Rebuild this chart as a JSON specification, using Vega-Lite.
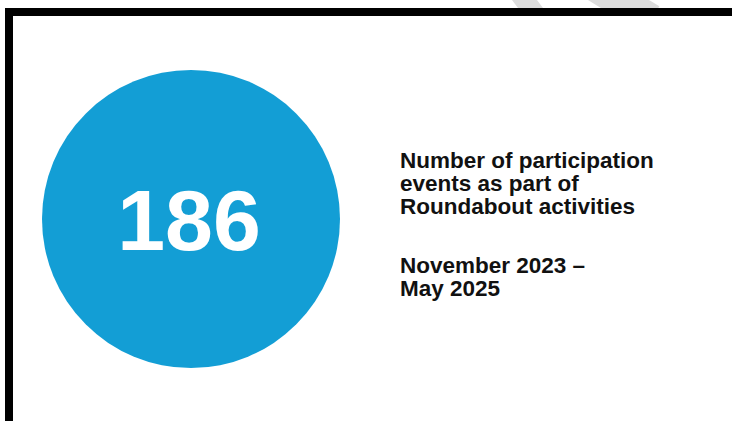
{
  "$schema": "https://vega.github.io/schema/vega-lite/v6.json",
  "width": 732,
  "height": 421,
  "autosize": {"type": "fit", "contains": "padding"},
  "padding": 0,
  "background": "white",
  "config": {"view": {"stroke": null}},
  "data": {"values": [{"count": 186, "metric": "Number of participation\nevents as part of\nRoundabout activities", "period": "November 2023 –\nMay 2025"}]},
  "layer": [
    {
      "mark": {"type": "rule", "stroke": "#dcdcdc", "strokeWidth": 20, "clip": true},
      "encoding": {
        "x": {"datum": 509.5, "type": "quantitative", "scale": {"domain": [0, 732], "nice": false, "zero": false}, "axis": null},
        "x2": {"datum": 539.5},
        "y": {"datum": -20, "type": "quantitative", "scale": {"domain": [0, 421], "reverse": true, "nice": false, "zero": false}, "axis": null},
        "y2": {"datum": 20}
      }
    },
    {
      "mark": {"type": "rule", "stroke": "#dcdcdc", "strokeWidth": 32, "clip": true},
      "encoding": {
        "x": {"datum": 586, "type": "quantitative", "scale": {"domain": [0, 732], "nice": false, "zero": false}, "axis": null},
        "x2": {"datum": 651},
        "y": {"datum": -20, "type": "quantitative", "scale": {"domain": [0, 421], "reverse": true, "nice": false, "zero": false}, "axis": null},
        "y2": {"datum": 20}
      }
    },
    {
      "mark": {"type": "rect", "color": "#ffffff", "opacity": 1, "clip": true},
      "encoding": {
        "x": {"datum": 5, "type": "quantitative", "scale": {"domain": [0, 732], "nice": false, "zero": false}, "axis": null},
        "x2": {"datum": 740},
        "y": {"datum": 8, "type": "quantitative", "scale": {"domain": [0, 421], "reverse": true, "nice": false, "zero": false}, "axis": null},
        "y2": {"datum": 430}
      }
    },
    {
      "mark": {"type": "rule", "stroke": "#000000", "strokeWidth": 8, "clip": true},
      "encoding": {
        "x": {"datum": 9, "type": "quantitative", "scale": {"domain": [0, 732], "nice": false, "zero": false}, "axis": null},
        "y": {"datum": 8, "type": "quantitative", "scale": {"domain": [0, 421], "reverse": true, "nice": false, "zero": false}, "axis": null},
        "y2": {"datum": 430}
      }
    },
    {
      "mark": {"type": "rule", "stroke": "#000000", "strokeWidth": 8, "clip": true},
      "encoding": {
        "x": {"datum": 5, "type": "quantitative", "scale": {"domain": [0, 732], "nice": false, "zero": false}, "axis": null},
        "x2": {"datum": 740},
        "y": {"datum": 12, "type": "quantitative", "scale": {"domain": [0, 421], "reverse": true, "nice": false, "zero": false}, "axis": null}
      }
    },
    {
      "mark": {"type": "point", "shape": "circle", "filled": true, "color": "#139ed5", "opacity": 1, "size": 88804, "strokeWidth": 0},
      "encoding": {
        "x": {"datum": 191, "type": "quantitative", "scale": {"domain": [0, 732], "nice": false, "zero": false}, "axis": null},
        "y": {"datum": 219, "type": "quantitative", "scale": {"domain": [0, 421], "reverse": true, "nice": false, "zero": false}, "axis": null}
      }
    },
    {
      "mark": {"type": "text", "font": "Liberation Sans", "fontWeight": "bold", "fontSize": 86, "color": "#ffffff", "align": "center", "baseline": "alphabetic"},
      "encoding": {
        "x": {"datum": 189, "type": "quantitative", "scale": {"domain": [0, 732], "nice": false, "zero": false}, "axis": null},
        "y": {"datum": 250, "type": "quantitative", "scale": {"domain": [0, 421], "reverse": true, "nice": false, "zero": false}, "axis": null},
        "text": {"field": "count", "type": "quantitative"}
      }
    },
    {
      "mark": {"type": "text", "font": "Liberation Sans", "fontWeight": "bold", "fontSize": 22.5, "color": "#111111", "align": "left", "baseline": "alphabetic", "lineBreak": "\n", "lineHeight": 23},
      "encoding": {
        "x": {"datum": 400, "type": "quantitative", "scale": {"domain": [0, 732], "nice": false, "zero": false}, "axis": null},
        "y": {"datum": 168, "type": "quantitative", "scale": {"domain": [0, 421], "reverse": true, "nice": false, "zero": false}, "axis": null},
        "text": {"field": "metric", "type": "nominal"}
      }
    },
    {
      "mark": {"type": "text", "font": "Liberation Sans", "fontWeight": "bold", "fontSize": 22.5, "color": "#111111", "align": "left", "baseline": "alphabetic", "lineBreak": "\n", "lineHeight": 23},
      "encoding": {
        "x": {"datum": 400, "type": "quantitative", "scale": {"domain": [0, 732], "nice": false, "zero": false}, "axis": null},
        "y": {"datum": 273, "type": "quantitative", "scale": {"domain": [0, 421], "reverse": true, "nice": false, "zero": false}, "axis": null},
        "text": {"field": "period", "type": "nominal"}
      }
    }
  ]
}
